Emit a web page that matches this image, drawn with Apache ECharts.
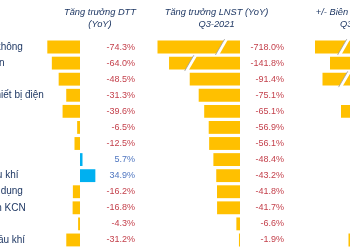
<!DOCTYPE html>
<html><head><meta charset="utf-8">
<script src="https://cdn.jsdelivr.net/npm/echarts@6/dist/echarts.min.js"></script>
<style>html,body{margin:0;padding:0;background:#fff}#c{width:350px;height:250px}</style>
</head><body><div id="c"></div>
<script>
// ---- data ----
const categories = ['Hàng không','Cơ điện','Bán lẻ','Máy, thiết bị điện','Giấy','Cảng','Ô tô','Thép','DV dầu khí','Đồ gia dụng','BĐ sản KCN','Nhựa','Điện dầu khí'];
const dttGrowth  = [-74.3,-64.0,-48.5,-31.3,-39.6,-6.5,-12.5,5.7,34.9,-16.2,-16.8,-4.3,-31.2];
const lnstGrowth = [-718.0,-141.8,-91.4,-75.1,-65.1,-56.9,-56.1,-48.4,-43.2,-41.8,-41.7,-6.6,-1.9];
// oversized bars are drawn shortened with a break mark (values in %)
const lnstBarCap   = [-150,-129,null,null,null,null,null,null,null,null,null,null,null];
const lnstBreakAt  = [-33,-89,null,null,null,null,null,null,null,null,null,null,null];
const marginChange = [-40.0,-14.0,-28.0,-8.5,-11.8,-6.0,-4.0,-7.0,-3.0,-5.0,-9.0,-2.0,-10.3];
const marginBarCap = [-17,null,-15.5,null,null,null,null,null,null,null,null,null,null];
const marginBreakAt= [-11.2,null,-11,null,null,null,null,null,null,null,null,null,null];
const headers = [
  ['Tăng trưởng DTT','(YoY)'],
  ['Tăng trưởng LNST (YoY)','Q3-2021'],
  ['+/- Biên LNST (YoY)','Q3-2021']
];

// ---- style ----
const FONT = '"Liberation Sans", Arial, sans-serif';
const ORANGE = '#FFC000', BLUE = '#00B0F0';
const NEG = '#C4414C', POS = '#4F76C0', NAVY = '#1F3864';
const TOP = 39, H = 209;

const fmt = v => v.toFixed(1) + '%';
const capped = (vals, caps) => vals.map((v,i) => caps[i] != null ? caps[i] : v);
const breaks = arr => arr.map((v,i) => v == null ? null : [v,i]).filter(Boolean);
const barColor = p => p.value < 0 ? ORANGE : BLUE;

function breakRender(params, api){
  const p = api.coord([api.value(0), api.value(1)]);
  const h = api.size([0,1])[1] * 0.8;
  const s = 4, w = 1.8, cx = p[0], cy = p[1];
  return {type:'group', children:[
    {type:'polygon', shape:{points:[[cx-s-w,cy+h/2+0.5],[cx-s+w,cy+h/2+0.5],[cx+s+w,cy-h/2-0.5],[cx+s-w,cy-h/2-0.5]]},
     style:{fill:'#fff'}},
    {type:'line', shape:{x1:cx-s-w-0.6,y1:cy+h/2+1.5,x2:cx+s-w+0.6,y2:cy-h/2-1.5},
     style:{stroke:'#9a9a9a',lineWidth:0.8}}
  ]};
}

const hidden = {axisLine:{show:false},axisTick:{show:false},splitLine:{show:false}};
function catAxis(gi, extra){
  return Object.assign({type:'category', gridIndex:gi, inverse:true, data:categories,
    axisLine:{show:false}, axisTick:{show:false}, splitLine:{show:false}}, extra);
}
function valLabelAxis(gi, vals, margin){
  return {type:'category', gridIndex:gi, inverse:true, position:'right',
    data: vals.map(fmt), axisLine:{show:false}, axisTick:{show:false},
    axisLabel:{interval:0, align:'right', margin:margin, fontSize:9, fontFamily:FONT,
      color:(v,i) => vals[i] < 0 ? NEG : POS}};
}

const graphic = [];
const centers = [100, 216.5, 358];
headers.forEach((hd, k) => {
  hd.forEach((t, j) => graphic.push({type:'text', x:centers[k], y:12.5 + j*11.5,
    style:{text:t, font:'italic 9.3px ' + FONT, fill:NAVY, align:'center', verticalAlign:'middle',
      textAlign:'center', textVerticalAlign:'middle'}}));
});

const gridBase = {top:TOP, height:H, containLabel:false, outerBoundsMode:'none'};
const option = {
  animation:false,
  backgroundColor:'#fff',
  graphic: graphic,
  grid:[
    Object.assign({left:36, width:88}, gridBase),
    Object.assign({left:157.5, width:82.5}, gridBase),
    Object.assign({left:315, width:85}, gridBase)
  ],
  xAxis:[
    Object.assign({type:'value', gridIndex:0, min:-100, max:100, show:false}, hidden),
    Object.assign({type:'value', gridIndex:1, min:-150, max:0, show:false}, hidden),
    Object.assign({type:'value', gridIndex:2, min:-17, max:0, show:false}, hidden)
  ],
  yAxis:[
    catAxis(0, {position:'left', axisLabel:{interval:0, align:'left', margin:67, fontSize:10, fontFamily:FONT, color:NAVY}}),
    valLabelAxis(0, dttGrowth, 11),
    catAxis(1, {show:false}),
    valLabelAxis(1, lnstGrowth, 44),
    catAxis(2, {show:false}),
    valLabelAxis(2, marginChange, 44)
  ],
  series:[
    {type:'bar', xAxisIndex:0, yAxisIndex:0, data:dttGrowth, barWidth:'80%', itemStyle:{color:barColor}},
    {type:'bar', xAxisIndex:1, yAxisIndex:2, data:capped(lnstGrowth, lnstBarCap), barWidth:'80%', itemStyle:{color:barColor}},
    {type:'custom', xAxisIndex:1, yAxisIndex:2, data:breaks(lnstBreakAt), renderItem:breakRender, z:5},
    {type:'bar', xAxisIndex:2, yAxisIndex:4, data:capped(marginChange, marginBarCap), barWidth:'80%', itemStyle:{color:barColor}},
    {type:'custom', xAxisIndex:2, yAxisIndex:4, data:breaks(marginBreakAt), renderItem:breakRender, z:5}
  ]
};
const chart = echarts.init(document.getElementById('c'));
chart.setOption(option);
</script>
</body></html>
